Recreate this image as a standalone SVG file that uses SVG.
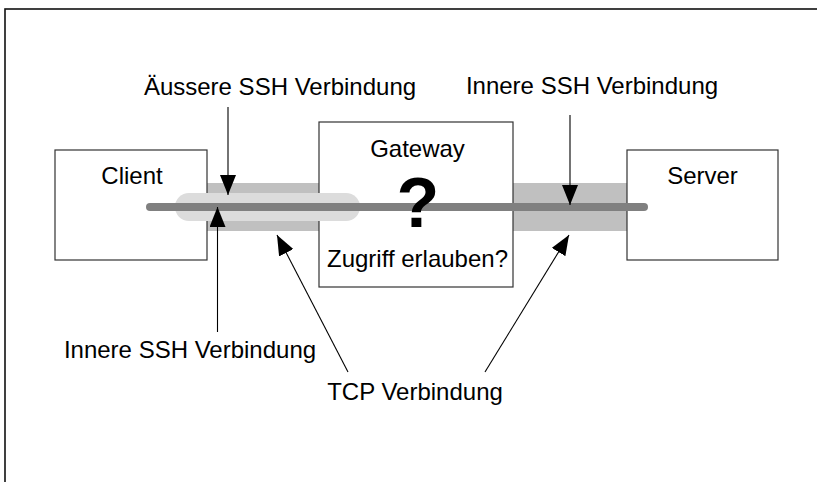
<svg xmlns="http://www.w3.org/2000/svg" width="817" height="482" viewBox="0 0 817 482">
  <style>
    .box { fill: #ffffff; stroke: #333333; stroke-width: 1.2; }
    .lbl { font-family: "Liberation Sans", Arial, sans-serif; font-size: 24px; fill: #000000; text-anchor: middle; }
    .q { font-family: "Liberation Sans", Arial, sans-serif; font-size: 70px; font-weight: bold; fill: #000000; text-anchor: middle; }
    .band { fill: #c0c0c0; }
    .conn { stroke: #000000; stroke-width: 1.1; fill: none; marker-end: url(#head); }
  </style>
  <defs>
    <marker id="head" markerUnits="userSpaceOnUse" markerWidth="20" markerHeight="16" viewBox="0 0 20 16" refX="20" refY="8" orient="auto">
      <path d="M0,0 L20,8 L0,16 Z" fill="#000000"/>
    </marker>
  </defs>

  <rect width="817" height="482" fill="#ffffff"/>
  <!-- outer frame -->
  <rect x="5" y="9" width="900" height="600" fill="none" stroke="#111111" stroke-width="1.6"/>

  <!-- TCP bands between the hosts -->
  <rect class="band" x="207" y="183" width="112" height="48"/>
  <rect class="band" x="513" y="183" width="114" height="48"/>

  <g id="client">
    <rect class="box" x="55" y="150" width="152" height="110"/>
    <text class="lbl" x="132" y="184">Client</text>
  </g>
  <g id="gateway">
    <rect class="box" x="319" y="122" width="194" height="165"/>
    <text class="lbl" x="417.5" y="157">Gateway</text>
    <text class="lbl" x="417.5" y="267">Zugriff erlauben?</text>
  </g>
  <g id="server">
    <rect class="box" x="627" y="150" width="151" height="110"/>
    <text class="lbl" x="702.5" y="184">Server</text>
  </g>

  <!-- outer SSH tunnel -->
  <rect x="175" y="193" width="185" height="28" rx="14" ry="14" fill="#dcdcdc"/>
  <!-- inner SSH connection -->
  <line x1="150" y1="207" x2="644" y2="207" stroke="#808080" stroke-width="8" stroke-linecap="round"/>

  <text class="q" x="418" y="227">?</text>

  <g id="labels">
    <text class="lbl" x="280" y="95">Äussere SSH Verbindung</text>
    <text class="lbl" x="592" y="94">Innere SSH Verbindung</text>
    <text class="lbl" x="190" y="358">Innere SSH Verbindung</text>
    <text class="lbl" x="415" y="400">TCP Verbindung</text>
  </g>

  <g id="connectors">
    <line class="conn" x1="228" y1="107" x2="228" y2="195"/>
    <line class="conn" x1="217.5" y1="332" x2="217.5" y2="207"/>
    <line class="conn" x1="570" y1="115" x2="570" y2="205"/>
    <line class="conn" x1="348" y1="372" x2="277" y2="235"/>
    <line class="conn" x1="485" y1="372" x2="569" y2="235"/>
  </g>
</svg>
